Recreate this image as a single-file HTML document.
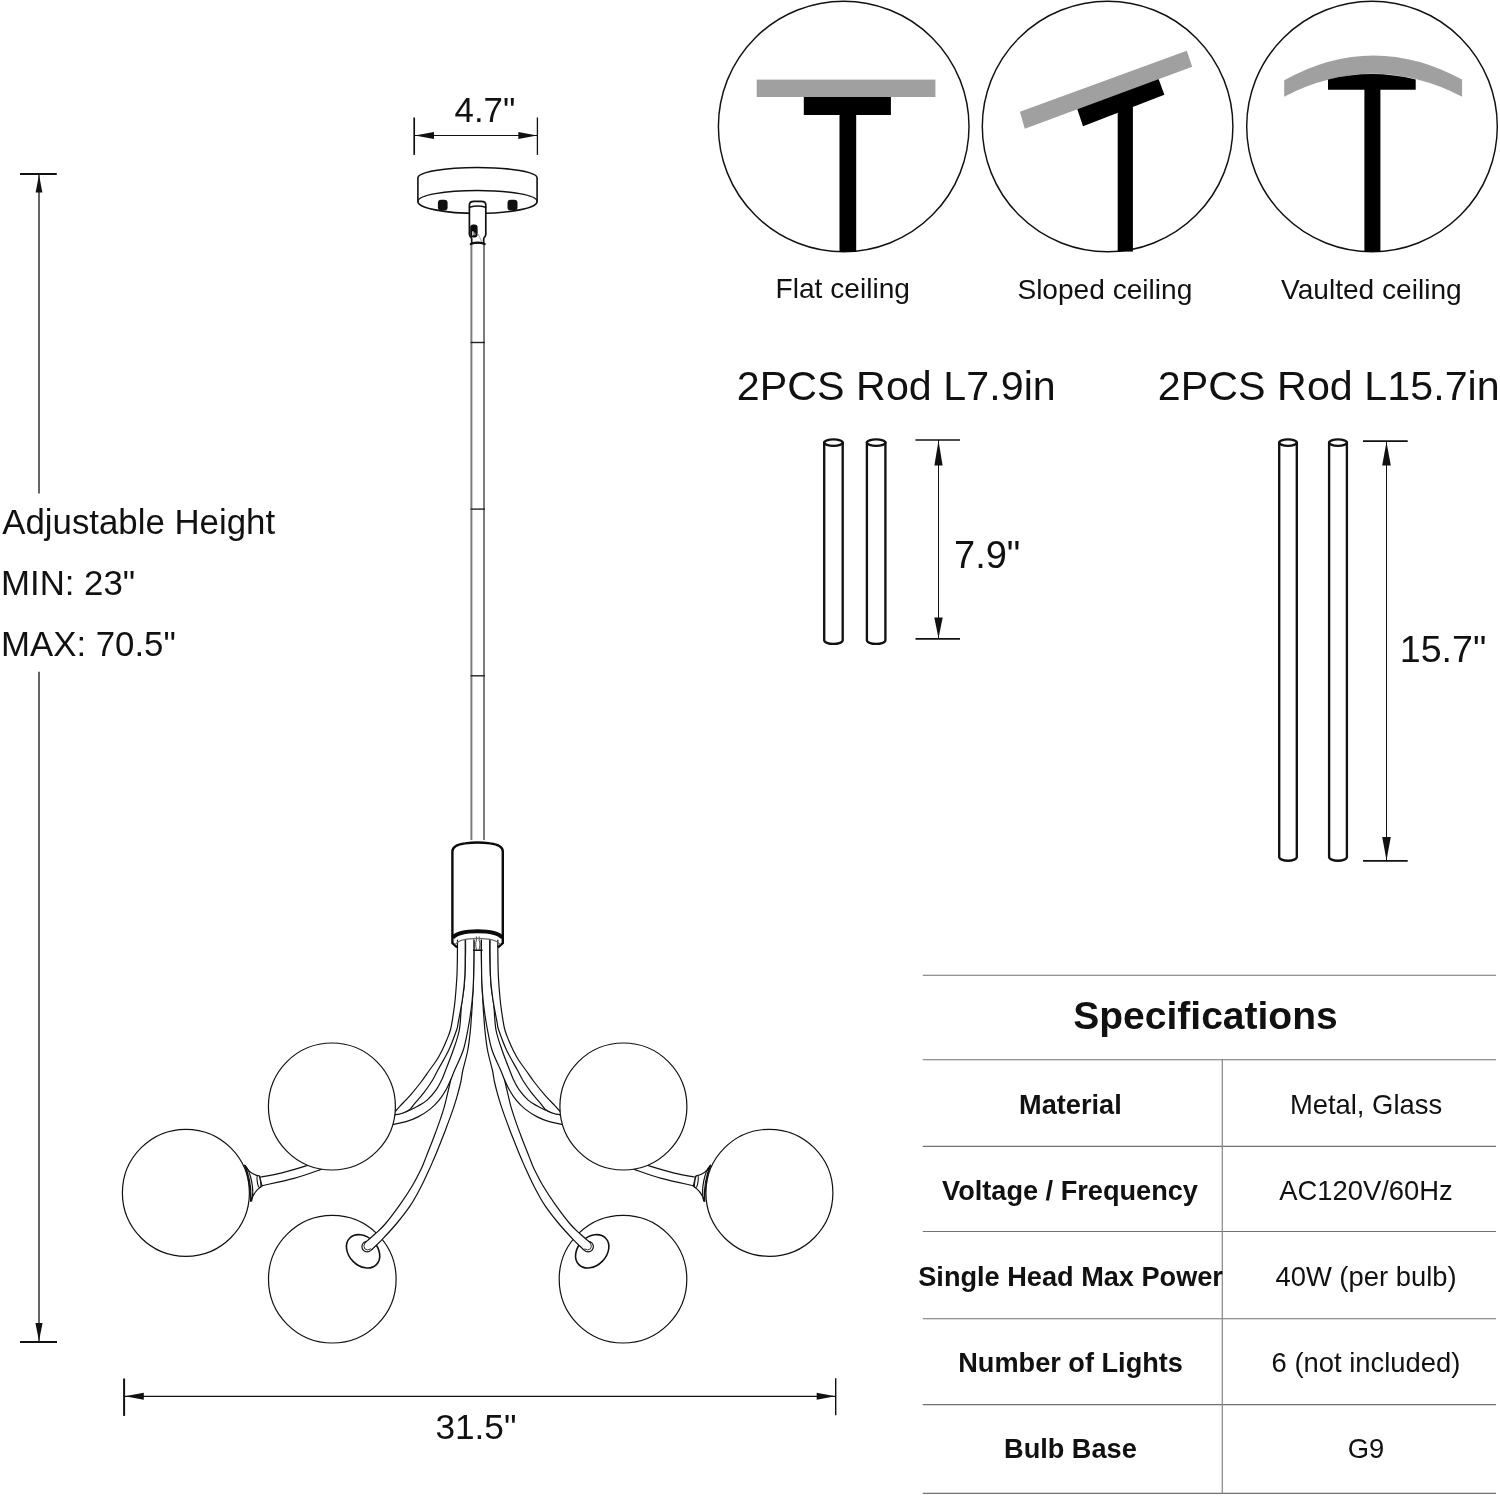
<!DOCTYPE html>
<html>
<head>
<meta charset="utf-8">
<title>Chandelier dimensions</title>
<style>
  html, body { margin: 0; padding: 0; background: #ffffff; }
  body { width: 1500px; height: 1496px; overflow: hidden; position: relative; }
  svg { position: absolute; left: 0; top: 0; display: block; will-change: transform; }
  text { font-family: "Liberation Sans", sans-serif; fill: #111111; }
  .b { font-weight: bold; }
  .ln { fill: none; stroke: #111111; stroke-width: 1.2; stroke-linecap: round; stroke-linejoin: round; }
  .thin { fill: none; stroke: #111111; stroke-width: 1; }
  .tick { fill: none; stroke: #111111; stroke-width: 1.7; }
  .wf { fill: #ffffff; stroke: #111111; stroke-width: 1.2; stroke-linejoin: round; }
  .ao { fill: none; stroke: #111111; stroke-linecap: butt; }
  .ai { fill: none; stroke: #ffffff; stroke-linecap: butt; }
</style>
</head>
<body>
<svg width="1500" height="1496" viewBox="0 0 1500 1496">
<rect x="0" y="0" width="1500" height="1496" fill="#ffffff"/>

<!-- ===================== CEILING TYPE CIRCLES ===================== -->
<g id="ceilings">
  <!-- flat -->
  <circle cx="843.7" cy="126.5" r="125.3" fill="#fff" stroke="#111" stroke-width="1.45"/>
  <rect x="756.7" y="79.6" width="178.7" height="17.4" fill="#a0a0a0"/>
  <rect x="803.8" y="97" width="87.1" height="18" fill="#000"/>
  <rect x="839.5" y="114" width="16.7" height="137.6" fill="#000"/>
  <!-- sloped -->
  <circle cx="1107.6" cy="126.5" r="125.3" fill="#fff" stroke="#111" stroke-width="1.45"/>
  <polygon points="1077.0,108.2 1158.3,78.2 1164.4,94.8 1083,126.3" fill="#000"/>
  <polygon points="1019.9,111.7 1186.8,50.7 1192.2,66.8 1024.8,128.8" fill="#a0a0a0"/>
  <rect x="1117.7" y="104" width="15.2" height="147.6" fill="#000"/>
  <!-- vaulted -->
  <circle cx="1372" cy="126.5" r="125.3" fill="#fff" stroke="#111" stroke-width="1.45"/>
  <path d="M1284.2,80.2 Q1373,31 1462.1,79.6 L1462.1,96.7 Q1373,51 1284.2,96.7 Z" fill="#a0a0a0"/>
  <path d="M1328,79.5 Q1372,68.5 1415.7,79.5 L1415.7,89.8 L1328,89.8 Z" fill="#000"/>
  <rect x="1364.4" y="88" width="16" height="163.6" fill="#000"/>
</g>
<g id="ceil-labels" font-size="28.1">
  <text x="775.6" y="297.5">Flat ceiling</text>
  <text x="1017.4" y="298.5">Sloped ceiling</text>
  <text x="1281" y="299">Vaulted ceiling</text>
</g>

<!-- ===================== RODS ===================== -->
<g id="rods">
  <text x="736.8" y="400.4" font-size="41.2" letter-spacing="0.05">2PCS Rod L7.9in</text>
  <text x="1157.8" y="400.4" font-size="41.2" letter-spacing="0.05">2PCS Rod L15.7in</text>
  <!-- short rods -->
  <g class="ln" style="stroke-width:2.35">
    <path d="M824.2,442.6 L824.2,640.2 A9.25,3.7 0 0 0 842.7,640.2 L842.7,442.6"/>
    <ellipse cx="833.45" cy="442.6" rx="9.25" ry="3.2"/>
    <path d="M866.9,442.6 L866.9,640.2 A9.25,3.7 0 0 0 885.4,640.2 L885.4,442.6"/>
    <ellipse cx="876.15" cy="442.6" rx="9.25" ry="3.2"/>
  </g>
  <!-- short dim -->
  <line class="tick" x1="915.5" y1="440" x2="960" y2="440"/>
  <line class="tick" x1="915.5" y1="638.8" x2="960" y2="638.8"/>
  <line class="thin" x1="938.5" y1="440" x2="938.5" y2="638.7"/>
  <polygon points="938.5,440.5 934.4,465.5 942.6,465.5" fill="#111"/>
  <polygon points="938.5,638.2 934.3,617.5 942.7,617.5" fill="#111"/>
  <text x="954" y="567.8" font-size="38">7.9"</text>
  <!-- long rods -->
  <g class="ln" style="stroke-width:2.35">
    <path d="M1279.2,442.6 L1279.2,857 A8.8,3.7 0 0 0 1296.8,857 L1296.8,442.6"/>
    <ellipse cx="1288" cy="442.6" rx="8.8" ry="3.2"/>
    <path d="M1329.1,442.6 L1329.1,857 A8.9,3.7 0 0 0 1346.9,857 L1346.9,442.6"/>
    <ellipse cx="1338" cy="442.6" rx="8.9" ry="3.2"/>
  </g>
  <line class="tick" x1="1363" y1="441.2" x2="1407.7" y2="441.2"/>
  <line class="tick" x1="1363" y1="860.8" x2="1407.7" y2="860.8"/>
  <line class="thin" x1="1386.5" y1="441" x2="1386.5" y2="860.5"/>
  <polygon points="1386.5,441.7 1382.2,465.5 1390.8,465.5" fill="#111"/>
  <polygon points="1386.5,860.3 1382.2,837 1390.8,837" fill="#111"/>
  <text x="1399.8" y="661.7" font-size="37.6">15.7"</text>
</g>

<!-- ===================== SPEC TABLE ===================== -->
<g id="table">
  <g stroke="#727272" stroke-width="1.1">
    <line x1="922.8" y1="975.2" x2="1496" y2="975.2"/>
    <line x1="922.8" y1="1059.8" x2="1496" y2="1059.8"/>
    <line x1="922.8" y1="1146.4" x2="1496" y2="1146.4"/>
    <line x1="922.8" y1="1231.5" x2="1496" y2="1231.5"/>
    <line x1="922.8" y1="1318.8" x2="1496" y2="1318.8"/>
    <line x1="922.8" y1="1404.6" x2="1496" y2="1404.6"/>
    <line x1="922.8" y1="1493.4" x2="1496" y2="1493.4"/>
  </g>
  <line x1="1222.3" y1="1059.3" x2="1222.3" y2="1494" stroke="#858585" stroke-width="1.2"/>
  <text class="b" x="1205.5" y="1029.2" font-size="39" text-anchor="middle">Specifications</text>
  <g class="b" font-size="27.15" text-anchor="middle">
    <text x="1070.4" y="1114">Material</text>
    <text x="1070" y="1200">Voltage / Frequency</text>
    <text x="1070.6" y="1286">Single Head Max Power</text>
    <text x="1070.6" y="1372">Number of Lights</text>
    <text x="1070.4" y="1457.8">Bulb Base</text>
  </g>
  <g font-size="27.4" text-anchor="middle">
    <text x="1366" y="1114">Metal, Glass</text>
    <text x="1366" y="1200">AC120V/60Hz</text>
    <text x="1366" y="1286">40W (per bulb)</text>
    <text x="1366" y="1372">6 (not included)</text>
    <text x="1366" y="1457.5">G9</text>
  </g>
</g>

<!-- ===================== MAIN DIMENSIONS ===================== -->
<g id="dims">
  <!-- 4.7" -->
  <text x="454.6" y="121.5" font-size="34.8">4.7"</text>
  <line class="tick" x1="414.2" y1="117.5" x2="414.2" y2="154.9"/>
  <line class="tick" x1="537.4" y1="117.5" x2="537.4" y2="154.9" style="stroke-width:1.3"/>
  <line class="thin" x1="414.4" y1="135.5" x2="537.5" y2="135.5"/>
  <polygon points="414.8,135.5 434,131.9 434,139.1" fill="#111"/>
  <polygon points="537,135.5 518.3,131.9 518.3,139.1" fill="#111"/>
  <!-- height -->
  <line class="tick" x1="20" y1="173.9" x2="56.8" y2="173.9" style="stroke-width:2"/>
  <line class="tick" x1="20" y1="1342" x2="57" y2="1342" style="stroke-width:2"/>
  <line class="thin" x1="39" y1="174" x2="39" y2="493.6" style="stroke-width:1.3"/>
  <line class="thin" x1="39" y1="671.8" x2="39" y2="1342" style="stroke-width:1.3"/>
  <polygon points="39,175 35.6,192.5 42.4,192.5" fill="#111"/>
  <polygon points="39,1341 35.4,1323 42.6,1323" fill="#111"/>
  <g font-size="34.8">
    <text x="2.3" y="534.2">Adjustable Height</text>
    <text x="1" y="595.4">MIN: 23"</text>
    <text x="1" y="656.3">MAX: 70.5"</text>
  </g>
  <!-- 31.5" -->
  <line class="tick" x1="124.1" y1="1378.5" x2="124.1" y2="1415.9" style="stroke-width:2"/>
  <line class="tick" x1="835.7" y1="1378.3" x2="835.7" y2="1415.3" style="stroke-width:1.4"/>
  <line class="thin" x1="124.2" y1="1396.3" x2="835.7" y2="1396.3" style="stroke-width:1.25"/>
  <polygon points="124.8,1396.3 143.8,1392.8 143.8,1399.8" fill="#111"/>
  <polygon points="835.2,1396.3 816.7,1392.8 816.7,1399.8" fill="#111"/>
  <text x="435.4" y="1439" font-size="35.2">31.5"</text>
</g>

<!-- ===================== CHANDELIER ===================== -->
<g id="lamp">
<g id="left">
<path d="M345.0,1150.0 C342.5,1151.2 336.4,1154.9 330.0,1157.5 C323.6,1160.1 314.8,1163.0 306.8,1165.6 C298.8,1168.1 289.9,1170.9 282.0,1172.8 C274.1,1174.7 263.3,1176.5 259.6,1177.2 L262.0,1185.6 C267.3,1184.4 284.3,1181.1 294.0,1178.4 C303.7,1175.7 313.1,1172.2 320.4,1169.6 C327.7,1167.0 332.7,1165.3 338.0,1163.0 C343.3,1160.7 349.7,1157.2 352.0,1156.0 Z" fill="#fff" stroke="none"/>
<path class="ln" d="M345.0,1150.0 C342.5,1151.2 336.4,1154.9 330.0,1157.5 C323.6,1160.1 314.8,1163.0 306.8,1165.6 C298.8,1168.1 289.9,1170.9 282.0,1172.8 C274.1,1174.7 263.3,1176.5 259.6,1177.2"/>
<path class="ln" d="M352.0,1156.0 C349.7,1157.2 343.3,1160.7 338.0,1163.0 C332.7,1165.3 327.7,1167.0 320.4,1169.6 C313.1,1172.2 303.7,1175.7 294.0,1178.4 C284.3,1181.1 267.3,1184.4 262.0,1185.6"/>
<circle class="wf" cx="185.9" cy="1192.8" r="63.5"/>
<path class="wf" d="M259.6,1176.2 C252,1174.5 247.5,1170.5 244.8,1165.2 C249.5,1176 251.5,1189 250.8,1201.2 C253,1194.5 256,1189.5 262,1186.2 Z"/>
<path class="ln" d="M245.2,1165.6 C250.5,1171 254.8,1190 251.6,1201" style="stroke-width:1.2"/>
<path class="ln" d="M244.8,1165.4 C247.3,1172 250.8,1190 250.6,1201.2" style="stroke-width:1.2"/>
<ellipse cx="258.9" cy="1181.6" rx="1.6" ry="6.1" transform="rotate(-9 258.9 1181.6)" fill="#fff" stroke="#111" stroke-width="1.1"/>
<circle class="wf" cx="332.3" cy="1279.2" r="63.8"/>
<ellipse cx="363.1" cy="1251.3" rx="18.8" ry="14.2" transform="rotate(45 363.1 1251.3)" fill="#fff" stroke="#111" stroke-width="1.6"/>
<circle cx="367.2" cy="1246.6" r="5.3" fill="#fff" stroke="#111" stroke-width="1.2"/>
<circle cx="367.7" cy="1246.1" r="3.8" fill="none" stroke="#333" stroke-width="1"/>
<path d="M465.5,940.0 C465.5,941.7 465.6,943.3 465.5,950.0 C465.4,956.7 465.4,970.8 465.0,980.0 C464.6,989.2 463.8,996.7 463.0,1005.0 C462.2,1013.3 461.1,1021.7 460.0,1030.0 C458.9,1038.3 458.0,1046.7 456.5,1055.0 C455.0,1063.3 452.2,1073.6 450.8,1079.6 C449.4,1085.6 449.2,1086.7 448.1,1091.1 C447.1,1095.5 445.9,1101.1 444.5,1106.1 C443.1,1111.1 441.4,1116.1 439.7,1121.1 C438.0,1126.1 436.0,1131.4 434.2,1136.2 C432.4,1141.0 430.4,1146.0 428.8,1150.0 C427.2,1154.0 426.1,1156.9 424.9,1160.0 C423.7,1163.1 423.6,1163.9 421.4,1168.4 C419.2,1172.9 415.3,1180.7 411.7,1186.8 C408.1,1192.9 404.0,1199.0 399.6,1205.1 C395.2,1211.2 389.7,1218.7 385.6,1223.5 C381.6,1228.3 378.8,1230.6 375.3,1233.8 C371.8,1237.0 366.6,1241.4 364.8,1242.9 L371.8,1249.5 C373.6,1247.8 378.2,1243.6 382.3,1239.3 C386.4,1235.0 391.9,1229.2 396.6,1223.5 C401.3,1217.8 406.5,1211.2 410.6,1205.1 C414.7,1199.0 417.8,1192.9 421.0,1186.8 C424.2,1180.7 427.6,1172.9 429.7,1168.4 C431.8,1163.9 432.1,1163.1 433.4,1160.0 C434.7,1156.9 436.4,1153.0 437.6,1150.0 C438.8,1147.0 439.4,1145.5 440.7,1142.2 C442.0,1138.9 443.9,1134.2 445.4,1130.2 C446.9,1126.2 448.4,1122.1 449.9,1118.1 C451.3,1114.1 452.8,1110.1 454.1,1106.1 C455.4,1102.1 456.6,1098.1 457.7,1094.1 C458.8,1090.1 459.9,1086.0 460.8,1082.0 C461.7,1078.0 461.7,1075.3 462.9,1070.0 C464.1,1064.7 466.6,1056.7 467.8,1050.0 C469.1,1043.3 469.8,1035.7 470.4,1030.0 C471.0,1024.3 471.1,1021.0 471.5,1016.0 C471.9,1011.0 472.2,1006.0 472.5,1000.0 C472.8,994.0 473.3,987.5 473.5,980.0 C473.7,972.5 473.8,961.5 473.9,954.8 C474.0,948.1 473.9,942.5 473.9,940.0 Z" fill="#fff" stroke="none"/>
<path class="ln" d="M465.5,940.0 C465.5,941.7 465.6,943.3 465.5,950.0 C465.4,956.7 465.4,970.8 465.0,980.0 C464.6,989.2 463.8,996.7 463.0,1005.0 C462.2,1013.3 461.1,1021.7 460.0,1030.0 C458.9,1038.3 458.0,1046.7 456.5,1055.0 C455.0,1063.3 452.2,1073.6 450.8,1079.6 C449.4,1085.6 449.2,1086.7 448.1,1091.1 C447.1,1095.5 445.9,1101.1 444.5,1106.1 C443.1,1111.1 441.4,1116.1 439.7,1121.1 C438.0,1126.1 436.0,1131.4 434.2,1136.2 C432.4,1141.0 430.4,1146.0 428.8,1150.0 C427.2,1154.0 426.1,1156.9 424.9,1160.0 C423.7,1163.1 423.6,1163.9 421.4,1168.4 C419.2,1172.9 415.3,1180.7 411.7,1186.8 C408.1,1192.9 404.0,1199.0 399.6,1205.1 C395.2,1211.2 389.7,1218.7 385.6,1223.5 C381.6,1228.3 378.8,1230.6 375.3,1233.8 C371.8,1237.0 366.6,1241.4 364.8,1242.9"/>
<path class="ln" d="M473.9,940.0 C473.9,942.5 474.0,948.1 473.9,954.8 C473.8,961.5 473.7,972.5 473.5,980.0 C473.3,987.5 472.8,994.0 472.5,1000.0 C472.2,1006.0 471.9,1011.0 471.5,1016.0 C471.1,1021.0 471.0,1024.3 470.4,1030.0 C469.8,1035.7 469.1,1043.3 467.8,1050.0 C466.6,1056.7 464.1,1064.7 462.9,1070.0 C461.7,1075.3 461.7,1078.0 460.8,1082.0 C459.9,1086.0 458.8,1090.1 457.7,1094.1 C456.6,1098.1 455.4,1102.1 454.1,1106.1 C452.8,1110.1 451.3,1114.1 449.9,1118.1 C448.4,1122.1 446.9,1126.2 445.4,1130.2 C443.9,1134.2 442.0,1138.9 440.7,1142.2 C439.4,1145.5 438.8,1147.0 437.6,1150.0 C436.4,1153.0 434.7,1156.9 433.4,1160.0 C432.1,1163.1 431.8,1163.9 429.7,1168.4 C427.6,1172.9 424.2,1180.7 421.0,1186.8 C417.8,1192.9 414.7,1199.0 410.6,1205.1 C406.5,1211.2 401.3,1217.8 396.6,1223.5 C391.9,1229.2 386.4,1235.0 382.3,1239.3 C378.2,1243.6 373.6,1247.8 371.8,1249.5"/>
<path d="M465.5,940.0 C465.5,942.5 465.7,947.5 465.5,955.0 C465.3,962.5 465.0,976.7 464.3,985.0 C463.6,993.3 462.3,997.5 461.5,1005.0 C460.7,1012.5 460.7,1022.5 459.3,1030.0 C457.9,1037.5 455.6,1043.3 453.3,1050.0 C451.0,1056.7 447.6,1065.2 445.7,1070.0 C443.8,1074.8 443.7,1075.7 442.1,1079.0 C440.5,1082.3 438.6,1086.3 436.1,1089.8 C433.6,1093.3 430.1,1097.4 427.1,1100.1 C424.1,1102.8 420.7,1104.5 418.0,1106.1 C415.3,1107.7 413.2,1108.6 410.8,1109.7 C408.4,1110.8 406.1,1111.9 403.6,1112.7 C401.1,1113.5 398.5,1114.3 395.6,1114.7 C392.7,1115.1 387.6,1115.0 386.0,1115.0 L384.0,1125.5 C385.6,1125.3 389.9,1124.9 393.6,1124.3 C397.3,1123.7 401.9,1122.9 406.0,1121.7 C410.1,1120.5 414.0,1119.0 418.0,1116.9 C422.0,1114.8 426.6,1111.9 430.1,1109.1 C433.6,1106.3 436.4,1103.4 439.1,1100.1 C441.8,1096.8 444.4,1092.6 446.3,1089.2 C448.2,1085.8 449.4,1082.8 450.8,1079.6 C452.2,1076.4 452.6,1074.9 454.7,1070.0 C456.8,1065.1 461.1,1056.7 463.3,1050.0 C465.5,1043.3 466.7,1035.7 467.8,1030.0 C468.9,1024.3 469.5,1021.0 470.2,1016.0 C470.9,1011.0 471.6,1006.0 472.2,1000.0 C472.8,994.0 473.2,987.5 473.5,980.0 C473.8,972.5 473.8,961.5 473.9,954.8 C474.0,948.1 473.9,942.5 473.9,940.0 Z" fill="#fff" stroke="none"/>
<path class="ln" d="M465.5,940.0 C465.5,942.5 465.7,947.5 465.5,955.0 C465.3,962.5 465.0,976.7 464.3,985.0 C463.6,993.3 462.3,997.5 461.5,1005.0 C460.7,1012.5 460.7,1022.5 459.3,1030.0 C457.9,1037.5 455.6,1043.3 453.3,1050.0 C451.0,1056.7 447.6,1065.2 445.7,1070.0 C443.8,1074.8 443.7,1075.7 442.1,1079.0 C440.5,1082.3 438.6,1086.3 436.1,1089.8 C433.6,1093.3 430.1,1097.4 427.1,1100.1 C424.1,1102.8 420.7,1104.5 418.0,1106.1 C415.3,1107.7 413.2,1108.6 410.8,1109.7 C408.4,1110.8 406.1,1111.9 403.6,1112.7 C401.1,1113.5 398.5,1114.3 395.6,1114.7 C392.7,1115.1 387.6,1115.0 386.0,1115.0"/>
<path class="ln" d="M473.9,940.0 C473.9,942.5 474.0,948.1 473.9,954.8 C473.8,961.5 473.8,972.5 473.5,980.0 C473.2,987.5 472.8,994.0 472.2,1000.0 C471.6,1006.0 470.9,1011.0 470.2,1016.0 C469.5,1021.0 468.9,1024.3 467.8,1030.0 C466.7,1035.7 465.5,1043.3 463.3,1050.0 C461.1,1056.7 456.8,1065.1 454.7,1070.0 C452.6,1074.9 452.2,1076.4 450.8,1079.6 C449.4,1082.8 448.2,1085.8 446.3,1089.2 C444.4,1092.6 441.8,1096.8 439.1,1100.1 C436.4,1103.4 433.6,1106.3 430.1,1109.1 C426.6,1111.9 422.0,1114.8 418.0,1116.9 C414.0,1119.0 410.1,1120.5 406.0,1121.7 C401.9,1122.9 397.3,1123.7 393.6,1124.3 C389.9,1124.9 385.6,1125.3 384.0,1125.5"/>
<path d="M457.5,940.0 C457.5,942.5 457.5,948.7 457.4,954.8 C457.3,960.9 457.3,969.1 456.9,976.5 C456.5,983.9 455.8,992.4 455.2,999.0 C454.6,1005.6 453.8,1010.8 453.0,1016.0 C452.2,1021.2 451.5,1026.0 450.4,1030.0 C449.3,1034.0 448.0,1036.9 446.6,1040.3 C445.2,1043.7 443.7,1047.2 442.0,1050.5 C440.3,1053.8 438.7,1057.0 436.6,1060.3 C434.5,1063.5 432.2,1066.4 429.6,1070.0 C427.0,1073.6 424.3,1077.8 421.1,1082.0 C417.9,1086.2 413.7,1091.3 410.2,1095.3 C406.7,1099.3 402.3,1103.6 400.0,1106.1 C397.7,1108.5 398.5,1107.8 396.5,1110.0 C394.5,1112.2 389.4,1117.5 388.0,1119.0 L386.0,1115.0 C387.6,1115.0 392.7,1115.1 395.6,1114.7 C398.5,1114.3 401.2,1113.6 403.6,1112.7 C406.0,1111.8 408.3,1110.7 410.2,1109.1 C412.1,1107.5 412.7,1105.9 415.0,1103.1 C417.3,1100.3 421.2,1096.1 424.1,1092.3 C427.0,1088.5 430.2,1083.9 432.5,1080.2 C434.8,1076.5 435.2,1075.0 437.9,1070.0 C440.6,1065.0 445.7,1056.7 448.8,1050.0 C451.9,1043.3 455.0,1034.6 456.6,1030.0 C458.2,1025.4 457.2,1027.8 458.2,1022.5 C459.2,1017.2 461.5,1005.9 462.6,998.2 C463.7,990.5 464.4,983.7 464.8,976.5 C465.2,969.3 465.1,960.9 465.2,954.8 C465.3,948.7 465.2,942.5 465.2,940.0 Z" fill="#fff" stroke="none"/>
<path class="ln" d="M457.5,940.0 C457.5,942.5 457.5,948.7 457.4,954.8 C457.3,960.9 457.3,969.1 456.9,976.5 C456.5,983.9 455.8,992.4 455.2,999.0 C454.6,1005.6 453.8,1010.8 453.0,1016.0 C452.2,1021.2 451.5,1026.0 450.4,1030.0 C449.3,1034.0 448.0,1036.9 446.6,1040.3 C445.2,1043.7 443.7,1047.2 442.0,1050.5 C440.3,1053.8 438.7,1057.0 436.6,1060.3 C434.5,1063.5 432.2,1066.4 429.6,1070.0 C427.0,1073.6 424.3,1077.8 421.1,1082.0 C417.9,1086.2 413.7,1091.3 410.2,1095.3 C406.7,1099.3 402.3,1103.6 400.0,1106.1 C397.7,1108.5 398.5,1107.8 396.5,1110.0 C394.5,1112.2 389.4,1117.5 388.0,1119.0"/>
<path class="ln" d="M465.2,940.0 C465.2,942.5 465.3,948.7 465.2,954.8 C465.1,960.9 465.2,969.3 464.8,976.5 C464.4,983.7 463.7,990.5 462.6,998.2 C461.5,1005.9 459.2,1017.2 458.2,1022.5 C457.2,1027.8 458.2,1025.4 456.6,1030.0 C455.0,1034.6 451.9,1043.3 448.8,1050.0 C445.7,1056.7 440.6,1065.0 437.9,1070.0 C435.2,1075.0 434.8,1076.5 432.5,1080.2 C430.2,1083.9 427.0,1088.5 424.1,1092.3 C421.2,1096.1 417.3,1100.3 415.0,1103.1 C412.7,1105.9 412.1,1107.5 410.2,1109.1 C408.3,1110.7 406.0,1111.8 403.6,1112.7 C401.2,1113.6 398.5,1114.3 395.6,1114.7 C392.7,1115.1 387.6,1115.0 386.0,1115.0"/>
<circle class="wf" cx="331.9" cy="1106.5" r="63.5"/>
</g>
<g id="right" transform="translate(955.3 0) scale(-1 1)">
<path d="M345.0,1150.0 C342.5,1151.2 336.4,1154.9 330.0,1157.5 C323.6,1160.1 314.8,1163.0 306.8,1165.6 C298.8,1168.1 289.9,1170.9 282.0,1172.8 C274.1,1174.7 263.3,1176.5 259.6,1177.2 L262.0,1185.6 C267.3,1184.4 284.3,1181.1 294.0,1178.4 C303.7,1175.7 313.1,1172.2 320.4,1169.6 C327.7,1167.0 332.7,1165.3 338.0,1163.0 C343.3,1160.7 349.7,1157.2 352.0,1156.0 Z" fill="#fff" stroke="none"/>
<path class="ln" d="M345.0,1150.0 C342.5,1151.2 336.4,1154.9 330.0,1157.5 C323.6,1160.1 314.8,1163.0 306.8,1165.6 C298.8,1168.1 289.9,1170.9 282.0,1172.8 C274.1,1174.7 263.3,1176.5 259.6,1177.2"/>
<path class="ln" d="M352.0,1156.0 C349.7,1157.2 343.3,1160.7 338.0,1163.0 C332.7,1165.3 327.7,1167.0 320.4,1169.6 C313.1,1172.2 303.7,1175.7 294.0,1178.4 C284.3,1181.1 267.3,1184.4 262.0,1185.6"/>
<circle class="wf" cx="185.9" cy="1192.8" r="63.5"/>
<path class="wf" d="M259.6,1176.2 C252,1174.5 247.5,1170.5 244.8,1165.2 C249.5,1176 251.5,1189 250.8,1201.2 C253,1194.5 256,1189.5 262,1186.2 Z"/>
<path class="ln" d="M245.2,1165.6 C250.5,1171 254.8,1190 251.6,1201" style="stroke-width:1.2"/>
<path class="ln" d="M244.8,1165.4 C247.3,1172 250.8,1190 250.6,1201.2" style="stroke-width:1.2"/>
<ellipse cx="258.9" cy="1181.6" rx="1.6" ry="6.1" transform="rotate(-9 258.9 1181.6)" fill="#fff" stroke="#111" stroke-width="1.1"/>
<circle class="wf" cx="332.3" cy="1279.2" r="63.8"/>
<ellipse cx="363.1" cy="1251.3" rx="18.8" ry="14.2" transform="rotate(45 363.1 1251.3)" fill="#fff" stroke="#111" stroke-width="1.6"/>
<circle cx="367.2" cy="1246.6" r="5.3" fill="#fff" stroke="#111" stroke-width="1.2"/>
<circle cx="367.7" cy="1246.1" r="3.8" fill="none" stroke="#333" stroke-width="1"/>
<path d="M465.5,940.0 C465.5,941.7 465.6,943.3 465.5,950.0 C465.4,956.7 465.4,970.8 465.0,980.0 C464.6,989.2 463.8,996.7 463.0,1005.0 C462.2,1013.3 461.1,1021.7 460.0,1030.0 C458.9,1038.3 458.0,1046.7 456.5,1055.0 C455.0,1063.3 452.2,1073.6 450.8,1079.6 C449.4,1085.6 449.2,1086.7 448.1,1091.1 C447.1,1095.5 445.9,1101.1 444.5,1106.1 C443.1,1111.1 441.4,1116.1 439.7,1121.1 C438.0,1126.1 436.0,1131.4 434.2,1136.2 C432.4,1141.0 430.4,1146.0 428.8,1150.0 C427.2,1154.0 426.1,1156.9 424.9,1160.0 C423.7,1163.1 423.6,1163.9 421.4,1168.4 C419.2,1172.9 415.3,1180.7 411.7,1186.8 C408.1,1192.9 404.0,1199.0 399.6,1205.1 C395.2,1211.2 389.7,1218.7 385.6,1223.5 C381.6,1228.3 378.8,1230.6 375.3,1233.8 C371.8,1237.0 366.6,1241.4 364.8,1242.9 L371.8,1249.5 C373.6,1247.8 378.2,1243.6 382.3,1239.3 C386.4,1235.0 391.9,1229.2 396.6,1223.5 C401.3,1217.8 406.5,1211.2 410.6,1205.1 C414.7,1199.0 417.8,1192.9 421.0,1186.8 C424.2,1180.7 427.6,1172.9 429.7,1168.4 C431.8,1163.9 432.1,1163.1 433.4,1160.0 C434.7,1156.9 436.4,1153.0 437.6,1150.0 C438.8,1147.0 439.4,1145.5 440.7,1142.2 C442.0,1138.9 443.9,1134.2 445.4,1130.2 C446.9,1126.2 448.4,1122.1 449.9,1118.1 C451.3,1114.1 452.8,1110.1 454.1,1106.1 C455.4,1102.1 456.6,1098.1 457.7,1094.1 C458.8,1090.1 459.9,1086.0 460.8,1082.0 C461.7,1078.0 461.7,1075.3 462.9,1070.0 C464.1,1064.7 466.6,1056.7 467.8,1050.0 C469.1,1043.3 469.8,1035.7 470.4,1030.0 C471.0,1024.3 471.1,1021.0 471.5,1016.0 C471.9,1011.0 472.2,1006.0 472.5,1000.0 C472.8,994.0 473.3,987.5 473.5,980.0 C473.7,972.5 473.8,961.5 473.9,954.8 C474.0,948.1 473.9,942.5 473.9,940.0 Z" fill="#fff" stroke="none"/>
<path class="ln" d="M465.5,940.0 C465.5,941.7 465.6,943.3 465.5,950.0 C465.4,956.7 465.4,970.8 465.0,980.0 C464.6,989.2 463.8,996.7 463.0,1005.0 C462.2,1013.3 461.1,1021.7 460.0,1030.0 C458.9,1038.3 458.0,1046.7 456.5,1055.0 C455.0,1063.3 452.2,1073.6 450.8,1079.6 C449.4,1085.6 449.2,1086.7 448.1,1091.1 C447.1,1095.5 445.9,1101.1 444.5,1106.1 C443.1,1111.1 441.4,1116.1 439.7,1121.1 C438.0,1126.1 436.0,1131.4 434.2,1136.2 C432.4,1141.0 430.4,1146.0 428.8,1150.0 C427.2,1154.0 426.1,1156.9 424.9,1160.0 C423.7,1163.1 423.6,1163.9 421.4,1168.4 C419.2,1172.9 415.3,1180.7 411.7,1186.8 C408.1,1192.9 404.0,1199.0 399.6,1205.1 C395.2,1211.2 389.7,1218.7 385.6,1223.5 C381.6,1228.3 378.8,1230.6 375.3,1233.8 C371.8,1237.0 366.6,1241.4 364.8,1242.9"/>
<path class="ln" d="M473.9,940.0 C473.9,942.5 474.0,948.1 473.9,954.8 C473.8,961.5 473.7,972.5 473.5,980.0 C473.3,987.5 472.8,994.0 472.5,1000.0 C472.2,1006.0 471.9,1011.0 471.5,1016.0 C471.1,1021.0 471.0,1024.3 470.4,1030.0 C469.8,1035.7 469.1,1043.3 467.8,1050.0 C466.6,1056.7 464.1,1064.7 462.9,1070.0 C461.7,1075.3 461.7,1078.0 460.8,1082.0 C459.9,1086.0 458.8,1090.1 457.7,1094.1 C456.6,1098.1 455.4,1102.1 454.1,1106.1 C452.8,1110.1 451.3,1114.1 449.9,1118.1 C448.4,1122.1 446.9,1126.2 445.4,1130.2 C443.9,1134.2 442.0,1138.9 440.7,1142.2 C439.4,1145.5 438.8,1147.0 437.6,1150.0 C436.4,1153.0 434.7,1156.9 433.4,1160.0 C432.1,1163.1 431.8,1163.9 429.7,1168.4 C427.6,1172.9 424.2,1180.7 421.0,1186.8 C417.8,1192.9 414.7,1199.0 410.6,1205.1 C406.5,1211.2 401.3,1217.8 396.6,1223.5 C391.9,1229.2 386.4,1235.0 382.3,1239.3 C378.2,1243.6 373.6,1247.8 371.8,1249.5"/>
<path d="M465.5,940.0 C465.5,942.5 465.7,947.5 465.5,955.0 C465.3,962.5 465.0,976.7 464.3,985.0 C463.6,993.3 462.3,997.5 461.5,1005.0 C460.7,1012.5 460.7,1022.5 459.3,1030.0 C457.9,1037.5 455.6,1043.3 453.3,1050.0 C451.0,1056.7 447.6,1065.2 445.7,1070.0 C443.8,1074.8 443.7,1075.7 442.1,1079.0 C440.5,1082.3 438.6,1086.3 436.1,1089.8 C433.6,1093.3 430.1,1097.4 427.1,1100.1 C424.1,1102.8 420.7,1104.5 418.0,1106.1 C415.3,1107.7 413.2,1108.6 410.8,1109.7 C408.4,1110.8 406.1,1111.9 403.6,1112.7 C401.1,1113.5 398.5,1114.3 395.6,1114.7 C392.7,1115.1 387.6,1115.0 386.0,1115.0 L384.0,1125.5 C385.6,1125.3 389.9,1124.9 393.6,1124.3 C397.3,1123.7 401.9,1122.9 406.0,1121.7 C410.1,1120.5 414.0,1119.0 418.0,1116.9 C422.0,1114.8 426.6,1111.9 430.1,1109.1 C433.6,1106.3 436.4,1103.4 439.1,1100.1 C441.8,1096.8 444.4,1092.6 446.3,1089.2 C448.2,1085.8 449.4,1082.8 450.8,1079.6 C452.2,1076.4 452.6,1074.9 454.7,1070.0 C456.8,1065.1 461.1,1056.7 463.3,1050.0 C465.5,1043.3 466.7,1035.7 467.8,1030.0 C468.9,1024.3 469.5,1021.0 470.2,1016.0 C470.9,1011.0 471.6,1006.0 472.2,1000.0 C472.8,994.0 473.2,987.5 473.5,980.0 C473.8,972.5 473.8,961.5 473.9,954.8 C474.0,948.1 473.9,942.5 473.9,940.0 Z" fill="#fff" stroke="none"/>
<path class="ln" d="M465.5,940.0 C465.5,942.5 465.7,947.5 465.5,955.0 C465.3,962.5 465.0,976.7 464.3,985.0 C463.6,993.3 462.3,997.5 461.5,1005.0 C460.7,1012.5 460.7,1022.5 459.3,1030.0 C457.9,1037.5 455.6,1043.3 453.3,1050.0 C451.0,1056.7 447.6,1065.2 445.7,1070.0 C443.8,1074.8 443.7,1075.7 442.1,1079.0 C440.5,1082.3 438.6,1086.3 436.1,1089.8 C433.6,1093.3 430.1,1097.4 427.1,1100.1 C424.1,1102.8 420.7,1104.5 418.0,1106.1 C415.3,1107.7 413.2,1108.6 410.8,1109.7 C408.4,1110.8 406.1,1111.9 403.6,1112.7 C401.1,1113.5 398.5,1114.3 395.6,1114.7 C392.7,1115.1 387.6,1115.0 386.0,1115.0"/>
<path class="ln" d="M473.9,940.0 C473.9,942.5 474.0,948.1 473.9,954.8 C473.8,961.5 473.8,972.5 473.5,980.0 C473.2,987.5 472.8,994.0 472.2,1000.0 C471.6,1006.0 470.9,1011.0 470.2,1016.0 C469.5,1021.0 468.9,1024.3 467.8,1030.0 C466.7,1035.7 465.5,1043.3 463.3,1050.0 C461.1,1056.7 456.8,1065.1 454.7,1070.0 C452.6,1074.9 452.2,1076.4 450.8,1079.6 C449.4,1082.8 448.2,1085.8 446.3,1089.2 C444.4,1092.6 441.8,1096.8 439.1,1100.1 C436.4,1103.4 433.6,1106.3 430.1,1109.1 C426.6,1111.9 422.0,1114.8 418.0,1116.9 C414.0,1119.0 410.1,1120.5 406.0,1121.7 C401.9,1122.9 397.3,1123.7 393.6,1124.3 C389.9,1124.9 385.6,1125.3 384.0,1125.5"/>
<path d="M457.5,940.0 C457.5,942.5 457.5,948.7 457.4,954.8 C457.3,960.9 457.3,969.1 456.9,976.5 C456.5,983.9 455.8,992.4 455.2,999.0 C454.6,1005.6 453.8,1010.8 453.0,1016.0 C452.2,1021.2 451.5,1026.0 450.4,1030.0 C449.3,1034.0 448.0,1036.9 446.6,1040.3 C445.2,1043.7 443.7,1047.2 442.0,1050.5 C440.3,1053.8 438.7,1057.0 436.6,1060.3 C434.5,1063.5 432.2,1066.4 429.6,1070.0 C427.0,1073.6 424.3,1077.8 421.1,1082.0 C417.9,1086.2 413.7,1091.3 410.2,1095.3 C406.7,1099.3 402.3,1103.6 400.0,1106.1 C397.7,1108.5 398.5,1107.8 396.5,1110.0 C394.5,1112.2 389.4,1117.5 388.0,1119.0 L386.0,1115.0 C387.6,1115.0 392.7,1115.1 395.6,1114.7 C398.5,1114.3 401.2,1113.6 403.6,1112.7 C406.0,1111.8 408.3,1110.7 410.2,1109.1 C412.1,1107.5 412.7,1105.9 415.0,1103.1 C417.3,1100.3 421.2,1096.1 424.1,1092.3 C427.0,1088.5 430.2,1083.9 432.5,1080.2 C434.8,1076.5 435.2,1075.0 437.9,1070.0 C440.6,1065.0 445.7,1056.7 448.8,1050.0 C451.9,1043.3 455.0,1034.6 456.6,1030.0 C458.2,1025.4 457.2,1027.8 458.2,1022.5 C459.2,1017.2 461.5,1005.9 462.6,998.2 C463.7,990.5 464.4,983.7 464.8,976.5 C465.2,969.3 465.1,960.9 465.2,954.8 C465.3,948.7 465.2,942.5 465.2,940.0 Z" fill="#fff" stroke="none"/>
<path class="ln" d="M457.5,940.0 C457.5,942.5 457.5,948.7 457.4,954.8 C457.3,960.9 457.3,969.1 456.9,976.5 C456.5,983.9 455.8,992.4 455.2,999.0 C454.6,1005.6 453.8,1010.8 453.0,1016.0 C452.2,1021.2 451.5,1026.0 450.4,1030.0 C449.3,1034.0 448.0,1036.9 446.6,1040.3 C445.2,1043.7 443.7,1047.2 442.0,1050.5 C440.3,1053.8 438.7,1057.0 436.6,1060.3 C434.5,1063.5 432.2,1066.4 429.6,1070.0 C427.0,1073.6 424.3,1077.8 421.1,1082.0 C417.9,1086.2 413.7,1091.3 410.2,1095.3 C406.7,1099.3 402.3,1103.6 400.0,1106.1 C397.7,1108.5 398.5,1107.8 396.5,1110.0 C394.5,1112.2 389.4,1117.5 388.0,1119.0"/>
<path class="ln" d="M465.2,940.0 C465.2,942.5 465.3,948.7 465.2,954.8 C465.1,960.9 465.2,969.3 464.8,976.5 C464.4,983.7 463.7,990.5 462.6,998.2 C461.5,1005.9 459.2,1017.2 458.2,1022.5 C457.2,1027.8 458.2,1025.4 456.6,1030.0 C455.0,1034.6 451.9,1043.3 448.8,1050.0 C445.7,1056.7 440.6,1065.0 437.9,1070.0 C435.2,1075.0 434.8,1076.5 432.5,1080.2 C430.2,1083.9 427.0,1088.5 424.1,1092.3 C421.2,1096.1 417.3,1100.3 415.0,1103.1 C412.7,1105.9 412.1,1107.5 410.2,1109.1 C408.3,1110.7 406.0,1111.8 403.6,1112.7 C401.2,1113.6 398.5,1114.3 395.6,1114.7 C392.7,1115.1 387.6,1115.0 386.0,1115.0"/>
<circle class="wf" cx="331.9" cy="1106.5" r="63.5"/>
</g>
<path class="ln" d="M473.6,950.3 L482,950.3" style="stroke-width:1.6"/>
<path d="M476.4,936.5 L476.4,940.5 C475.3,942 475.5,946.5 476.6,949.8 M479.2,936.5 L479.2,940.5 C480.3,942 480.1,946.5 479,949.8" fill="none" stroke="#333" stroke-width="0.9"/>
<path d="M452.4,943 L452.4,851.5 C452.4,847 457.5,844.3 465,843.4 Q477.6,841.6 490.2,843.4 C497.7,844.3 502.8,847 502.8,851.5 L502.8,943 C502.8,943 498,930 477.6,930 C458,930 452.4,943 452.4,943 Z" fill="#fff" stroke="none"/>
<path d="M457.2,947.4 L452.4,943.2 L452.4,851.5 C452.4,847 457.5,844.3 465,843.4 Q477.6,841.6 490.2,843.4 C497.7,844.3 502.8,847 502.8,851.5 L502.8,943.2 L498,947.4" fill="none" stroke="#0a0a0a" stroke-width="2.4" stroke-linejoin="round"/>
<path d="M452.6,937.6 C456.5,933.2 466,931.2 477.6,931.2 C489.2,931.2 498.7,933.2 502.6,937.6" fill="none" stroke="#0a0a0a" stroke-width="4" stroke-linecap="butt"/>
<path d="M455,945 C457.3,940.6 466,938.4 477.6,938.4 C489.5,938.4 498,940.6 500.2,945" fill="none" stroke="#666" stroke-width="1.1"/>
<rect x="471.4" y="243" width="12.6" height="597" fill="#fff" stroke="none"/>
<path d="M471.4,243 L471.4,840 M484,243 L484,840" fill="none" stroke="#7d7d7d" stroke-width="2"/>
<path d="M470.6,342.5 L484.9,342.5" fill="none" stroke="#222" stroke-width="1.4"/>
<path d="M470.6,509.1 L484.9,509.1" fill="none" stroke="#222" stroke-width="1.4"/>
<path d="M470.6,675.8 L484.9,675.8" fill="none" stroke="#222" stroke-width="1.4"/>
<path class="wf" style="stroke-width:1.6" d="M417.9,178 A59.6,10.5 0 0 1 537.1,178 L537.1,201.4 A59.6,12 0 0 1 417.9,201.4 Z"/>
<path class="ln" d="M417.9,201.4 A59.6,10.9 0 0 1 537.1,201.4" style="stroke-width:1.3"/>
<rect x="437.9" y="199.7" width="9.7" height="10.9" rx="3.3" fill="#111"/>
<rect x="507.5" y="199.7" width="10" height="10.9" rx="3.3" fill="#111"/>
<path class="wf" style="stroke-width:1.7" d="M469.4,205 C469.4,202.5 471,201.4 474,201.4 L481.2,201.4 C484.2,201.4 485.8,202.5 485.8,205 L485.8,234.3 C485.8,236.6 484,237.4 483.7,238.6 L483.7,243 L471.7,243 L471.7,238.6 C471.4,237.4 469.4,236.6 469.4,234.3 Z"/>
<path class="ln" d="M469.6,207.2 Q477.6,205 485.6,207.2" style="stroke-width:1.5"/>
<path class="ln" d="M470.8,244 Q477.7,241.4 484.6,244" style="stroke-width:2.3" stroke-linecap="butt"/>
<rect x="470.2" y="224.6" width="7.4" height="12.8" rx="3" fill="#0c0c0c"/>
<ellipse cx="472.9" cy="233.4" rx="0.75" ry="2.3" fill="#fff"/>
<ellipse cx="474.9" cy="233.9" rx="0.45" ry="1.7" fill="#ddd"/>
<path d="M478.2,234 L481.8,242" stroke="#999" stroke-width="0.9" fill="none"/>

</g>
</svg>
</body>
</html>
